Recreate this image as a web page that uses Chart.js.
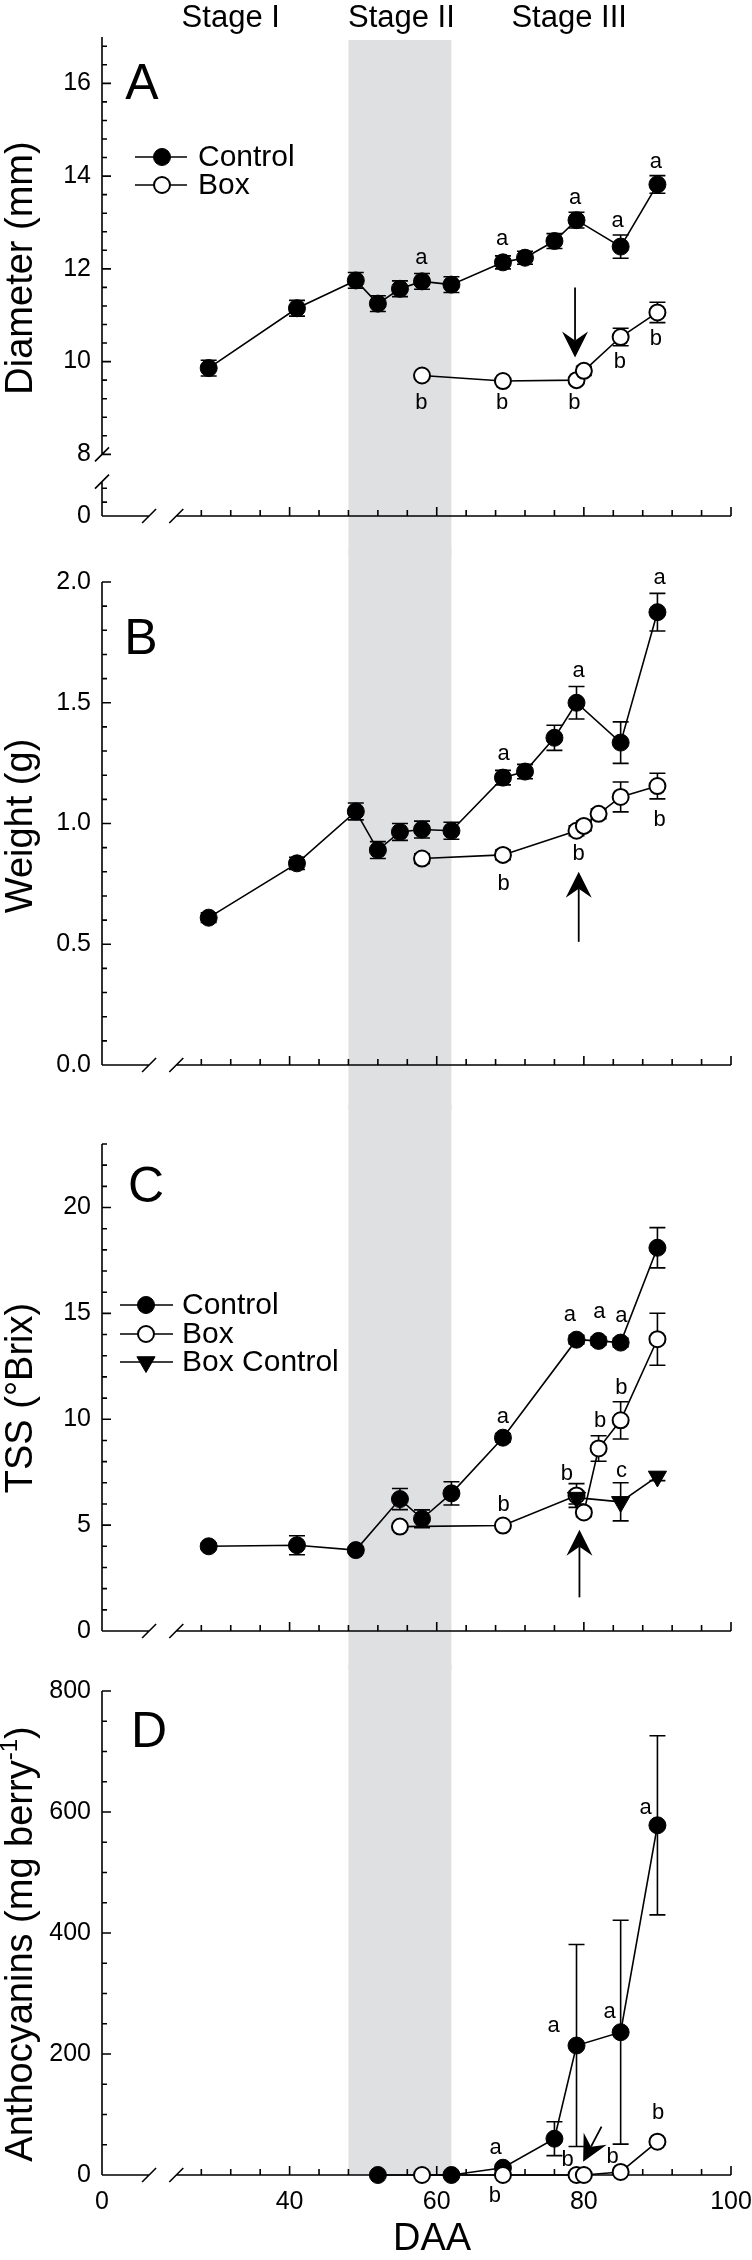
<!DOCTYPE html>
<html>
<head>
<meta charset="utf-8">
<script src="https://cdn.jsdelivr.net/npm/chart.js@4.4.1/dist/chart.umd.min.js"></script>
<style>
  body { margin: 0; background: #fff; width: 752px; height: 2260px; position: relative; overflow: hidden; }
  canvas { position: absolute; left: 0; }
</style>
</head>
<body>
<canvas id="panelA" width="752" height="554" style="top:0px"></canvas>
<canvas id="panelB" width="752" height="559" style="top:550px"></canvas>
<canvas id="panelC" width="752" height="564" style="top:1105px"></canvas>
<canvas id="panelD" width="752" height="595" style="top:1665px"></canvas>
<script>
// ---- data (DAA = days after anthesis) ----
const ctrlDayA = [29, 41, 49, 52, 55, 58, 62, 69, 72, 76, 79, 85, 90];
const ctrlDiameter = [9.86, 11.15, 11.75, 11.25, 11.57, 11.73, 11.66, 12.14, 12.24, 12.6, 13.05, 12.48, 13.82];
const ctrlDiameterSE = [0.17, 0.17, 0.17, 0.17, 0.17, 0.17, 0.17, 0.14, 0.14, 0.16, 0.17, 0.25, 0.19];
const boxDayA = [58, 69, 79, 80, 85, 90];
const boxDiameter = [9.7, 9.58, 9.6, 9.8, 10.53, 11.06];
const boxDiameterSE = [0.05, 0.05, 0.05, 0.1, 0.19, 0.22];

const ctrlDayB = [29, 41, 49, 52, 55, 58, 62, 69, 72, 76, 79, 85, 90];
const ctrlWeight = [0.61, 0.835, 1.05, 0.89, 0.965, 0.975, 0.97, 1.19, 1.215, 1.355, 1.5, 1.335, 1.875];
const ctrlWeightSE = [0.02, 0.025, 0.035, 0.035, 0.035, 0.035, 0.035, 0.03, 0.03, 0.052, 0.067, 0.086, 0.078];
const boxDayB = [58, 69, 79, 80, 82, 85, 90];
const boxWeight = [0.855, 0.87, 0.97, 0.99, 1.04, 1.11, 1.155];
const boxWeightSE = [0.02, 0.02, 0.02, 0.02, 0.02, 0.062, 0.053];

const ctrlDayC = [29, 41, 49, 55, 58, 62, 69, 79, 82, 85, 90];
const ctrlTSS = [4.0, 4.05, 3.82, 6.23, 5.3, 6.5, 9.13, 13.76, 13.7, 13.62, 18.1];
const ctrlTSSSE = [0.15, 0.45, 0.15, 0.5, 0.42, 0.55, 0.2, 0.2, 0.2, 0.2, 0.95];
const boxDayC = [55, 69, 79, 80, 82, 85, 90];
const boxTSS = [4.93, 4.98, 6.4, 5.6, 8.62, 9.95, 13.78];
const boxTSSSE = [0.1, 0.1, 0.56, 0.2, 0.6, 0.88, 1.23];
const boxCtrlDayC = [79, 85, 90];
const boxCtrlTSS = [6.3, 6.1, 7.3];
const boxCtrlTSSSE = [0.3, 0.9, 0.2];

const ctrlDayD = [52, 62, 69, 76, 79, 85, 90];
const ctrlAnthocyanins = [0, 0, 12, 60, 214, 236, 578];
const ctrlAnthocyaninsSE = [0, 0, 4, 28, 167, 185, 148];
const boxDayD = [58, 69, 79, 80, 85, 90];
const boxAnthocyanins = [0, 0, 0, 0, 5, 55];

// ---- axes ----
const X_MIN = 14.5;
const daaTicks = [X_MIN, 40, 60, 80, 100];
const daaTickLabels = ['0', '40', '60', '80', '100'];
const stageII = [48, 62];
const stageNames = ['Stage I', 'Stage II', 'Stage III'];
const stageCenters = [32, 55.2, 78];
const diameterTicks = [6.67, 8, 10, 12, 14, 16];
const diameterTickLabels = ['0', '8', '10', '12', '14', '16'];
const weightTicks = [0, 0.5, 1, 1.5, 2];
const weightTickLabels = ['0.0', '0.5', '1.0', '1.5', '2.0'];
const tssTicks = [0, 5, 10, 15, 20];
const tssTickLabels = ['0', '5', '10', '15', '20'];
const anthTicks = [0, 200, 400, 600, 800];
const anthTickLabels = ['0', '200', '400', '600', '800'];

// significance letters [DAA, value, letter]
const lettersA = [[57.9, 12.23, 'a'], [68.9, 12.65, 'a'], [78.8, 13.52, 'a'], [84.6, 13.03, 'a'], [89.8, 14.31, 'a'],
  [57.9, 9.11, 'b'], [68.9, 9.11, 'b'], [78.7, 9.11, 'b'], [84.9, 10.0, 'b'], [89.8, 10.48, 'b']];
const lettersB = [[69.1, 1.287, 'a'], [79.3, 1.632, 'a'], [90.3, 2.015, 'a'], [69.1, 0.751, 'b'], [79.3, 0.873, 'b'], [90.3, 1.013, 'b']];
const lettersC = [[69, 10.13, 'a'], [78.1, 14.95, 'a'], [82.1, 15.07, 'a'], [85.1, 14.9, 'a'], [69.1, 5.96, 'b'],
  [77.7, 7.4, 'b'], [82.2, 9.9, 'b'], [85.1, 11.5, 'b'], [85.1, 7.58, 'c']];
const lettersD = [[68.0, 44, 'a'], [75.9, 246, 'a'], [83.5, 270, 'a'], [88.4, 606, 'a'], [67.9, -35, 'b'],
  [77.8, 25, 'b'], [83.9, 30, 'b'], [90.1, 103, 'b']];

const FONT = "'Liberation Sans', Arial, Helvetica, sans-serif";
const tickFont = { family: FONT, size: 25 };
const AXIS_LEFT = 102, AXIS_RIGHT_PAD = 21;

function pts(days, vals) { return days.map((d, i) => ({ x: d, y: vals[i] })); }

function controlSet(days, vals) {
  return { label: 'Control', data: pts(days, vals), borderColor: '#000', backgroundColor: '#000', borderWidth: 1.6,
    pointStyle: 'circle', pointRadius: 8.5, pointBorderWidth: 1, pointBackgroundColor: '#000', pointBorderColor: '#000', clip: false };
}
function boxSet(days, vals) {
  return { label: 'Box', data: pts(days, vals), borderColor: '#000', backgroundColor: '#fff', borderWidth: 1.6,
    pointStyle: 'circle', pointRadius: 8, pointBorderWidth: 2, pointBackgroundColor: '#fff', pointBorderColor: '#000', clip: false };
}
function boxCtrlSet(days, vals) {
  return { label: 'Box Control', data: pts(days, vals), borderColor: '#000', backgroundColor: '#000', borderWidth: 1.6,
    pointStyle: 'triangle', pointRotation: 180, pointRadius: 10.5, pointBorderWidth: 1, pointBackgroundColor: '#000', pointBorderColor: '#000', clip: false };
}

function slash(ctx, cx, cy) { ctx.moveTo(cx - 7, cy + 7); ctx.lineTo(cx + 7, cy - 7); }

function drawArrow(ctx, x1, y1, x2, y2) {
  const a = Math.atan2(y2 - y1, x2 - x1), c = Math.cos(a), s = Math.sin(a);
  const L = 26, W = 13, N = 17;
  ctx.beginPath(); ctx.moveTo(x1, y1); ctx.lineTo(x2 - c * N, y2 - s * N); ctx.stroke();
  ctx.beginPath();
  ctx.moveTo(x2, y2);
  ctx.lineTo(x2 - c * L - s * W, y2 - s * L + c * W);
  ctx.lineTo(x2 - c * N, y2 - s * N);
  ctx.lineTo(x2 - c * L + s * W, y2 - s * L - c * W);
  ctx.closePath(); ctx.fill();
}

function decor(cfg) {
  return {
    id: 'decor',
    beforeDraw(chart) {
      const { ctx, chartArea, scales: { x } } = chart;
      const x1 = x.getPixelForValue(stageII[0]), x2 = x.getPixelForValue(stageII[1]);
      const top = cfg.bandTop || 0;
      const bottom = cfg.bandToAxis ? chartArea.bottom : chart.height;
      ctx.save();
      ctx.fillStyle = '#dfe0e2';
      ctx.fillRect(x1, top, x2 - x1, bottom - top);
      ctx.restore();
    },
    beforeDatasetsDraw(chart) {
      const { ctx, chartArea: a, scales: { x, y } } = chart;
      ctx.save();
      ctx.strokeStyle = '#000';
      ctx.lineWidth = 1.6;
      ctx.beginPath();
      // y axis (with break on panel A)
      if (cfg.yBreak) {
        const b1 = y.getPixelForValue(cfg.yBreak[0]), b2 = y.getPixelForValue(cfg.yBreak[1]);
        ctx.moveTo(a.left, a.top); ctx.lineTo(a.left, b1);
        ctx.moveTo(a.left, b2); ctx.lineTo(a.left, a.bottom);
        slash(ctx, a.left, b1); slash(ctx, a.left, b2);
        cfg.yLowTicks.forEach(v => { const py = y.getPixelForValue(v); ctx.moveTo(a.left, py); ctx.lineTo(a.left + 5, py); });
      } else {
        ctx.moveTo(a.left, a.top); ctx.lineTo(a.left, a.bottom);
      }
      const m = cfg.yMinor;
      const n = Math.round((m.to - m.from) / m.step);
      for (let k = 0; k <= n; k++) {
        const v = m.from + k * m.step;
        const r = v / m.major, major = Math.abs(r - Math.round(r)) < 1e-6;
        const py = y.getPixelForValue(v);
        ctx.moveTo(a.left, py); ctx.lineTo(a.left + (major ? 9 : 5), py);
      }
      // x axis with break
      const xb1 = x.getPixelForValue(20.9), xb2 = x.getPixelForValue(24.6);
      ctx.moveTo(a.left, a.bottom); ctx.lineTo(xb1, a.bottom);
      ctx.moveTo(xb2, a.bottom); ctx.lineTo(a.right, a.bottom);
      slash(ctx, xb1, a.bottom); slash(ctx, xb2, a.bottom);
      for (let v = 28; v <= 100; v += 4) {
        const px = x.getPixelForValue(v);
        ctx.moveTo(px, a.bottom); ctx.lineTo(px, a.bottom - (v % 20 === 0 ? 9 : 6));
      }
      // error bars
      cfg.errors.forEach(b => b.days.forEach((d, i) => {
        const e = b.errs[i];
        if (!e) return;
        const px = x.getPixelForValue(d);
        const t = y.getPixelForValue(b.vals[i] + e), bt = y.getPixelForValue(b.vals[i] - e);
        ctx.moveTo(px, t); ctx.lineTo(px, bt);
        ctx.moveTo(px - 8, t); ctx.lineTo(px + 8, t);
        ctx.moveTo(px - 8, bt); ctx.lineTo(px + 8, bt);
      }));
      ctx.stroke();
      ctx.restore();
    },
    afterDraw(chart) {
      const { ctx, scales: { x, y } } = chart;
      ctx.save();
      ctx.fillStyle = '#000';
      ctx.strokeStyle = '#000';
      ctx.textAlign = 'center';
      ctx.textBaseline = 'middle';
      // letters
      ctx.font = '22px ' + FONT;
      cfg.letters.forEach(([d, v, t]) => ctx.fillText(t, x.getPixelForValue(d), y.getPixelForValue(v)));
      // arrow
      ctx.lineWidth = 1.8;
      const ar = cfg.arrow;
      drawArrow(ctx, x.getPixelForValue(ar[0]), y.getPixelForValue(ar[1]), x.getPixelForValue(ar[2]), y.getPixelForValue(ar[3]));
      // panel letter
      ctx.font = '50px ' + FONT;
      ctx.fillText(cfg.letter, cfg.letterPos[0], cfg.letterPos[1]);
      // stage labels
      if (cfg.stages) {
        ctx.font = '31px ' + FONT;
        stageNames.forEach((s, i) => ctx.fillText(s, x.getPixelForValue(stageCenters[i]), 18));
      }
      // x title
      if (cfg.xTitle) {
        ctx.font = '38px ' + FONT;
        ctx.fillText(cfg.xTitle, cfg.xTitlePos[0], cfg.xTitlePos[1]);
      }
      // y title (rotated, optional superscript)
      ctx.save();
      ctx.translate(22, cfg.yTitleY);
      ctx.rotate(-Math.PI / 2);
      ctx.textAlign = 'left';
      const parts = cfg.yTitle;
      const widths = parts.map(p => { ctx.font = (p.sup ? '24px ' : '38px ') + FONT; return ctx.measureText(p.t).width; });
      let cx = -widths.reduce((s, w) => s + w, 0) / 2;
      parts.forEach((p, i) => {
        ctx.font = (p.sup ? '24px ' : '38px ') + FONT;
        ctx.fillText(p.t, cx, p.sup ? -12 : 0);
        cx += widths[i];
      });
      ctx.restore();
      // legend
      if (cfg.legend) {
        const lg = cfg.legend;
        ctx.font = '30px ' + FONT;
        ctx.textAlign = 'left';
        lg.sets.forEach((ds, i) => {
          const yy = lg.y[i];
          ctx.lineWidth = 1.6;
          ctx.beginPath(); ctx.moveTo(lg.x1, yy); ctx.lineTo(lg.x2, yy); ctx.stroke();
          ctx.fillStyle = ds.pointBackgroundColor;
          ctx.strokeStyle = ds.pointBorderColor;
          ctx.lineWidth = ds.pointBorderWidth;
          Chart.helpers.drawPoint(ctx, { pointStyle: ds.pointStyle, rotation: ds.pointRotation || 0, radius: ds.pointRadius, borderWidth: ds.pointBorderWidth }, lg.mx, yy);
          ctx.fillStyle = '#000';
          ctx.strokeStyle = '#000';
          ctx.fillText(ds.label, lg.tx, yy + 1);
        });
      }
      ctx.restore();
    }
  };
}

function makeChart(id, cfg) {
  return new Chart(document.getElementById(id), {
    type: 'line',
    data: { datasets: cfg.datasets },
    options: {
      responsive: false,
      animation: false,
      devicePixelRatio: 1,
      layout: { padding: { top: cfg.top, right: AXIS_RIGHT_PAD, left: 0, bottom: 0 } },
      plugins: { legend: { display: false }, tooltip: { enabled: false } },
      scales: {
        x: {
          type: 'linear', min: X_MIN, max: 100,
          grid: { display: false, drawTicks: false }, border: { display: false },
          afterBuildTicks: s => { s.ticks = daaTicks.map(v => ({ value: v })); },
          ticks: { display: !!cfg.showX, padding: 12, font: tickFont, color: '#000', autoSkip: false, maxRotation: 0,
            callback: (v, i) => daaTickLabels[i] },
          afterFit: s => { s.height = cfg.xHeight; s.paddingLeft = 0; s.paddingRight = 0; }
        },
        y: {
          type: 'linear', min: cfg.yMin, max: cfg.yMax,
          grid: { display: false, drawTicks: false }, border: { display: false },
          afterBuildTicks: s => { s.ticks = cfg.yTicks.map(v => ({ value: v })); },
          ticks: { padding: 11, font: tickFont, color: '#000', autoSkip: false, callback: (v, i) => cfg.yTickLabels[i] },
          afterFit: s => { s.width = AXIS_LEFT; s.paddingTop = 0; s.paddingBottom = 0; }
        }
      }
    },
    plugins: [decor(cfg)]
  });
}

// Panel A: diameter
const dsA = [boxSet(boxDayA, boxDiameter), controlSet(ctrlDayA, ctrlDiameter)];
makeChart('panelA', {
  datasets: dsA, top: 37, xHeight: 38,
  yMin: 6.67, yMax: 17, yTicks: diameterTicks, yTickLabels: diameterTickLabels,
  yMinor: { from: 8, to: 16.8, step: 0.4, major: 2 }, yBreak: [8, 7.41], yLowTicks: [6.97, 7.27],
  bandTop: 40, stages: true,
  errors: [{ days: ctrlDayA, vals: ctrlDiameter, errs: ctrlDiameterSE }, { days: boxDayA, vals: boxDiameter, errs: boxDiameterSE }],
  letters: lettersA, arrow: [78.8, 11.6, 78.8, 10.09],
  letter: 'A', letterPos: [142, 85],
  yTitle: [{ t: 'Diameter (mm)' }], yTitleY: 268,
  legend: { sets: [dsA[1], dsA[0]], y: [157, 185], x1: 135, x2: 187, mx: 162, tx: 198 }
});

// Panel B: weight
makeChart('panelB', {
  datasets: [boxSet(boxDayB, boxWeight), controlSet(ctrlDayB, ctrlWeight)],
  top: 32, xHeight: 44,
  yMin: 0, yMax: 2, yTicks: weightTicks, yTickLabels: weightTickLabels,
  yMinor: { from: 0, to: 2, step: 0.1, major: 0.5 },
  errors: [{ days: ctrlDayB, vals: ctrlWeight, errs: ctrlWeightSE }, { days: boxDayB, vals: boxWeight, errs: boxWeightSE }],
  letters: lettersB, arrow: [79.3, 0.51, 79.3, 0.8],
  letter: 'B', letterPos: [141, 90],
  yTitle: [{ t: 'Weight (g)' }], yTitleY: 276
});

// Panel C: total soluble solids
const dsC = [boxCtrlSet(boxCtrlDayC, boxCtrlTSS), boxSet(boxDayC, boxTSS), controlSet(ctrlDayC, ctrlTSS)];
makeChart('panelC', {
  datasets: dsC, top: 39, xHeight: 38,
  yMin: 0, yMax: 23, yTicks: tssTicks, yTickLabels: tssTickLabels,
  yMinor: { from: 0, to: 23, step: 1, major: 5 },
  errors: [{ days: ctrlDayC, vals: ctrlTSS, errs: ctrlTSSSE }, { days: boxDayC, vals: boxTSS, errs: boxTSSSE },
    { days: boxCtrlDayC, vals: boxCtrlTSS, errs: boxCtrlTSSSE }],
  letters: lettersC, arrow: [79.4, 1.59, 79.4, 4.78],
  letter: 'C', letterPos: [146, 83],
  yTitle: [{ t: 'TSS (°Brix)' }], yTitleY: 293,
  legend: { sets: [dsC[2], dsC[1], dsC[0]], y: [200, 229, 257], x1: 120, x2: 173, mx: 146, tx: 182 }
});

// Panel D: anthocyanins
makeChart('panelD', {
  datasets: [boxSet(boxDayD, boxAnthocyanins), controlSet(ctrlDayD, ctrlAnthocyanins)],
  top: 26, xHeight: 85, showX: true, bandToAxis: true,
  yMin: 0, yMax: 800, yTicks: anthTicks, yTickLabels: anthTickLabels,
  yMinor: { from: 0, to: 800, step: 50, major: 200 },
  errors: [{ days: ctrlDayD, vals: ctrlAnthocyanins, errs: ctrlAnthocyaninsSE }],
  letters: lettersD, arrow: [82.4, 80, 79.9, 22],
  letter: 'D', letterPos: [149, 68],
  xTitle: 'DAA', xTitlePos: [432, 575],
  yTitle: [{ t: 'Anthocyanins (mg berry' }, { t: '-1', sup: true }, { t: ')' }], yTitleY: 279
});
</script>
</body>
</html>
